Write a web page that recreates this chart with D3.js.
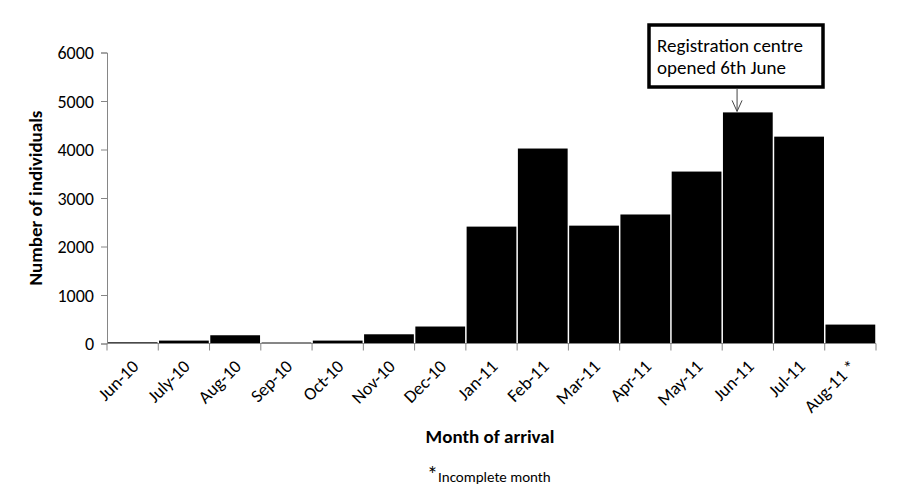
<!DOCTYPE html>
<html lang="en">
<head>
<meta charset="UTF-8">
<title>Month of arrival</title>
<script src="https://d3js.org/d3.v7.min.js"></script>
<style>
  body { margin: 0; background: #fff; }
  svg, svg text { font-family: Carlito, Calibri, "Open Sans", sans-serif; }
  .axis path, .axis line { stroke: #868686; }
  .axis text { fill: #000; }
</style>
</head>
<body>
<svg id="chart" width="899" height="492"></svg>
<script>
// months on the x axis
var months = ["Jun-10", "July-10", "Aug-10", "Sep-10", "Oct-10", "Nov-10", "Dec-10",
  "Jan-11", "Feb-11", "Mar-11", "Apr-11", "May-11", "Jun-11", "Jul-11", "Aug-11"];
// tick labels (last one has the asterisk)
var monthLabels = ["Jun-10", "July-10", "Aug-10", "Sep-10", "Oct-10", "Nov-10", "Dec-10",
  "Jan-11", "Feb-11", "Mar-11", "Apr-11", "May-11", "Jun-11", "Jul-11", "Aug-11 *"];
// number of individuals per month
var arrivals = [25, 60, 170, 20, 60, 190, 350, 2410, 4020, 2430, 2660, 3545, 4765, 4265, 390];
var yTicks = [0, 1000, 2000, 3000, 4000, 5000, 6000];

var svg = d3.select("#chart");
var plotLeft = 107, plotRight = 876, plotTop = 52.5, plotBottom = 343.5;

var x = d3.scaleBand().domain(months).range([plotLeft, plotRight]).padding(0);
var y = d3.scaleLinear().domain([0, 6000]).range([plotBottom, plotTop]);

// bars
svg.append("g")
  .selectAll("rect")
  .data(arrivals)
  .enter()
  .append("rect")
    .attr("x", function(d, i) { return x(months[i]) + 0.75; })
    .attr("width", x.bandwidth() - 1.5)
    .attr("y", function(d) { return y(d); })
    .attr("height", function(d) { return y(0) - y(d); })
    .attr("fill", "#000");

// y axis
var yAxis = svg.append("g")
  .attr("class", "axis")
  .attr("transform", "translate(" + plotLeft + ",0)")
  .call(d3.axisLeft(y).tickValues(yTicks).tickSize(6).tickPadding(7).tickFormat(d3.format("d")));
yAxis.attr("font-family", null);
yAxis.selectAll("text").style("font-size", "18px").attr("dy", "0.34em");

// x axis
var xAxis = svg.append("g")
  .attr("class", "axis")
  .attr("transform", "translate(0," + plotBottom + ")")
  .call(d3.axisBottom(x).tickSize(0).tickFormat(function(d, i) { return monthLabels[i]; }));
xAxis.attr("font-family", null);
xAxis.select(".domain").attr("d", "M" + plotLeft + ",0H" + plotRight);
// ticks sit at the band edges, not the centres
xAxis.selectAll(".edge")
  .data(months.concat(["end"]))
  .enter()
  .append("line")
    .attr("class", "edge")
    .attr("x1", function(d, i) { return plotLeft + i * x.step(); })
    .attr("x2", function(d, i) { return plotLeft + i * x.step(); })
    .attr("y1", 0)
    .attr("y2", 7)
    .attr("stroke", "#868686");
xAxis.selectAll(".tick text")
  .style("font-size", "18px")
  .attr("text-anchor", "end")
  .attr("dy", 0)
  .attr("transform", "translate(5,22) rotate(-45)");

// axis titles
svg.append("text")
  .attr("transform", "translate(42," + (plotBottom + plotTop) / 2 + ") rotate(-90)")
  .attr("text-anchor", "middle")
  .style("font-size", "19px")
  .style("font-weight", "bold")
  .text("Number of individuals");

svg.append("text")
  .attr("x", 490)
  .attr("y", 443)
  .attr("text-anchor", "middle")
  .style("font-size", "19px")
  .style("font-weight", "bold")
  .text("Month of arrival");

// footnote
var foot = svg.append("text").attr("x", 427).attr("y", 482);
foot.append("tspan").style("font-size", "22px").text("*");
foot.append("tspan").style("font-size", "15px").text("Incomplete month");

// annotation box with arrow to Jun-11
var ax = x("Jun-11") + x.bandwidth() * 0.29;
svg.append("rect")
  .attr("x", 649).attr("y", 25)
  .attr("width", 174).attr("height", 62)
  .attr("fill", "#fff").attr("stroke", "#000").attr("stroke-width", 3.5);
var note = svg.append("text").attr("x", 657).attr("y", 52).style("font-size", "19px");
note.append("tspan").attr("x", 657).text("Registration centre");
note.append("tspan").attr("x", 657).attr("dy", 22).text("opened 6th June");

var tipY = y(arrivals[months.indexOf("Jun-11")]) - 1;
svg.append("line")
  .attr("x1", ax).attr("x2", ax).attr("y1", 89).attr("y2", tipY)
  .attr("stroke", "#444").attr("stroke-width", 1);
svg.append("path")
  .attr("d", "M" + (ax - 5) + "," + (tipY - 11) + "L" + ax + "," + tipY + "L" + (ax + 5) + "," + (tipY - 11))
  .attr("fill", "none").attr("stroke", "#444").attr("stroke-width", 1);
</script>
</body>
</html>
